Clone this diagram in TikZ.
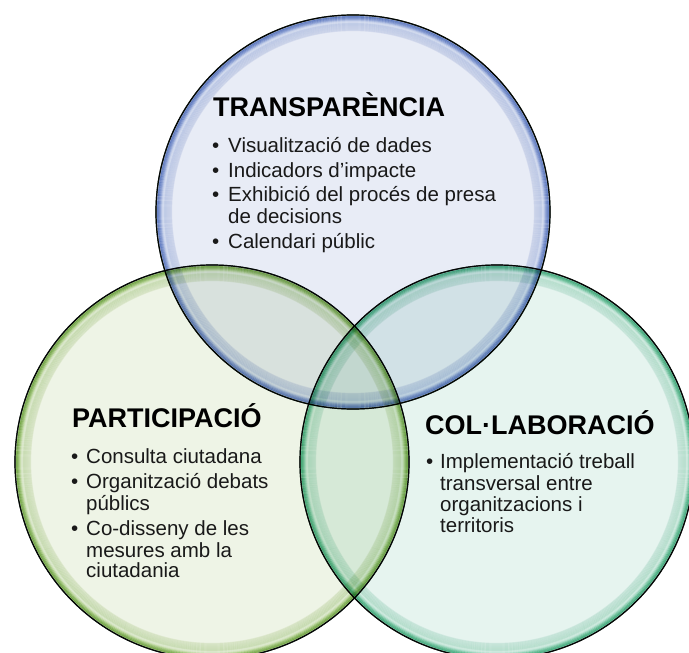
\documentclass[tikz,border=0pt]{standalone}
\usepackage{fontspec}
\setmainfont{Liberation Sans}
\definecolor{bpale}{HTML}{E8ECF6}
\definecolor{bmid}{HTML}{DCE3F3}
\definecolor{brim1}{HTML}{B3C3E7}
\definecolor{brim2}{HTML}{7C96D1}
\definecolor{gpale}{HTML}{EEF4E6}
\definecolor{gmid}{HTML}{E1EDD4}
\definecolor{grim1}{HTML}{C6DFA9}
\definecolor{grim2}{HTML}{8FBC62}
\definecolor{tpale}{HTML}{E6F4EF}
\definecolor{tmid}{HTML}{D8EFE5}
\definecolor{trim1}{HTML}{AAE0C9}
\definecolor{trim2}{HTML}{5FC098}
\definecolor{outl}{HTML}{1F2A24}
\newcommand\myrim[5]{%
  \foreach \d/\c in {1.5/#5, 2.5/#5!70!#4, 3.5/#5!40!#4, 4.5/#4, 5.5/#4!60!white,
      6.5/#4!30!white, 7.5/#3!50!white, 8.5/#3, 9.5/#3, 10.5/#3!85!#2,
      11.5/#3!70!#2, 12.5/#3!55!#2, 13.5/#3!40!#2, 14.5/#3!25!#2, 15.5/#3!10!#2}
  {\draw[draw=\c, line width=1.15pt] (#1.center) circle[radius=197-\d];}%
}
\tikzset{
  ball/.style={circle, minimum size=394pt, inner sep=0pt, draw=outl, line width=1.2pt},
  ttl/.style={anchor=base west, inner sep=0pt, font=\fontsize{27}{30}\selectfont\bfseries, text=black},
  itm/.style={anchor=base west, inner sep=0pt, font=\fontsize{20.5}{24}\selectfont, text=black!90},
  bul/.style={anchor=base west, inner sep=0pt, font=\fontsize{20.5}{24}\selectfont, text=black!90}
}
\begin{document}
\begin{tikzpicture}[x=1pt,y=-1pt]
\useasboundingbox (0,0) rectangle (689,653);
\begin{scope}
\clip (0,0) rectangle (689,653);
\begin{scope}[blend group=multiply]
\node[ball, fill=bpale] (trans) at (353,212) {};
\myrim{trans}{bpale}{bmid}{brim1}{brim2}
\draw[outl, line width=1.2pt] (trans.center) circle[radius=197];
\node[ball, fill=gpale] (part) at (212,462) {};
\myrim{part}{gpale}{gmid}{grim1}{grim2}
\draw[outl, line width=1.2pt] (part.center) circle[radius=197];
\node[ball, fill=tpale] (colab) at (497,462) {};
\myrim{colab}{tpale}{tmid}{trim1}{trim2}
\draw[outl, line width=1.2pt] (colab.center) circle[radius=197];
\end{scope}
\end{scope}
% TRANSPARENCIA
\node[ttl] (t0) at (213,116) {TRANSPARÈNCIA};
\node[bul] (tb1) at (212,152) {•};
\node[itm] (t1) at (228,152) {Visualització de dades};
\node[bul] (tb2) at (212,177) {•};
\node[itm] (t2) at (228,177) {Indicadors d’impacte};
\node[bul] (tb3) at (212,201.5) {•};
\node[itm] (t3) at (228,201.5) {Exhibició del procés de presa};
\node[itm] (t3b) at (228,223) {de decisions};
\node[bul] (tb4) at (212,248) {•};
\node[itm] (t4) at (228,248) {Calendari públic};
% PARTICIPACIO
\node[ttl] (p0) at (72,427) {PARTICIPACIÓ};
\node[bul] (pb1) at (71,463) {•};
\node[itm] (p1) at (86,463) {Consulta ciutadana};
\node[bul] (pb2) at (71,488) {•};
\node[itm] (p2) at (86,488) {Organització debats};
\node[itm] (p2b) at (86,510) {públics};
\node[bul] (pb3) at (71,535) {•};
\node[itm] (p3) at (86,535) {Co-disseny de les};
\node[itm] (p3b) at (86,557) {mesures amb la};
\node[itm] (p3c) at (86,577) {ciutadania};
% COLLABORACIO
\node[ttl] (c0) at (425,434) {COL·LABORACIÓ};
\node[bul] (cb1) at (426,468) {•};
\node[itm] (c1) at (440,468) {Implementació treball};
\node[itm] (c1b) at (440,490) {transversal entre};
\node[itm] (c1c) at (440,511) {organitzacions i};
\node[itm] (c1d) at (440,532) {territoris};
\end{tikzpicture}
\end{document}
